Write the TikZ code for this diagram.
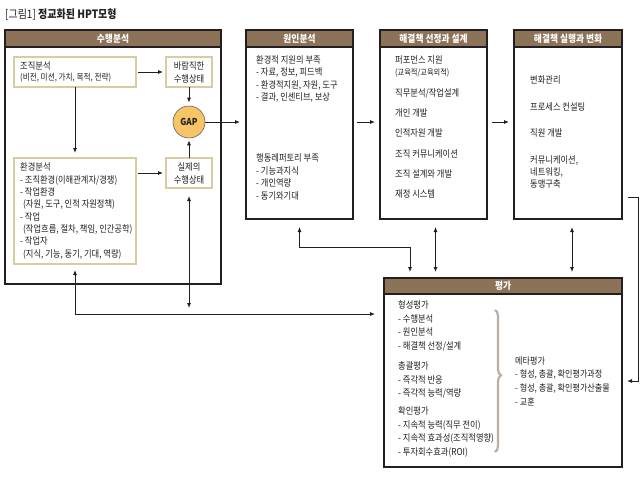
\documentclass[tikz,border=0pt]{standalone}
\usepackage{fontspec}
\setmainfont{Noto Sans CJK KR}[FakeStretch=0.87]
\usetikzlibrary{arrows.meta,decorations.pathreplacing,calc}
\definecolor{hdr}{HTML}{8C7257}
\definecolor{ink}{HTML}{231F20}
\definecolor{tanc}{HTML}{D8CDA0}
\definecolor{gapfill}{HTML}{F8C566}
\definecolor{bracec}{HTML}{B8B0A8}
\begin{document}
\begin{tikzpicture}[x=1pt,y=-1pt,
 frame/.style={draw=ink,line width=1.1pt,fill=white,anchor=north west,inner sep=0pt,outer sep=0pt},
 inbox/.style={draw=tanc,line width=1.2pt,fill=white,anchor=north west,inner sep=0pt,outer sep=0pt},
 hd/.style={draw=ink,line width=1.1pt,fill=hdr,anchor=north west,inner sep=0pt,outer sep=0pt,text=white,font=\bfseries\fontsize{10}{11}\selectfont},
 tx/.style={anchor=west,inner sep=0pt,align=left,text=ink,font=\fontsize{9.5}{12}\selectfont},
 conn/.style={draw=ink,line width=0.8pt},
 arr/.style={conn,-{Latex[length=5pt,width=4pt]}},
 darr/.style={conn,{Latex[length=5pt,width=4pt]}-{Latex[length=5pt,width=4pt]}},
]
\useasboundingbox (0,0) rectangle (640,480);
% title
\node[anchor=west,inner sep=0pt,text=ink,font=\fontsize{11.5}{13}\selectfont] (title) at (5,15) {[그림1] \textbf{정교화된 HPT모형}};
% performance analysis frame
\node[frame,minimum width=216pt,minimum height=254pt] (perf) at (5,30) {};
\node[hd,minimum width=216pt,minimum height=17pt] (perfh) at (5,30) {수행분석};
\node[inbox,minimum width=122pt,minimum height=30pt] (org) at (14,57) {};
\node[tx] (orgt) at (20,72) {조직분석\\[-1pt]{\fontsize{8.8}{12}\selectfont(비전, 미션, 가치, 목적, 전략)}};
\node[inbox,minimum width=46pt,minimum height=30pt] (des) at (166,57) {};
\node[tx,anchor=center,align=center,font=\fontsize{9.5}{13}\selectfont] (dest) at (des.center) {바람직한\\수행상태};
\node[circle,draw=ink!70,line width=0.6pt,fill=gapfill,minimum size=32pt,inner sep=0pt,font=\bfseries\fontsize{9.5}{10}\selectfont,text=ink] (gap) at (189,122) {GAP};
\node[inbox,minimum width=122pt,minimum height=106pt] (env) at (14,158) {};
\node[tx,font=\fontsize{9.5}{12.3}\selectfont] (envt) at (20,211) {환경분석\\- 조직환경(이해관계자/경쟁)\\- 작업환경\\\hspace*{3pt}(자원, 도구, 인적 자원정책)\\- 작업\\\hspace*{3pt}(작업흐름, 절차, 책임, 인간공학)\\- 작업자\\\hspace*{3pt}(지식, 기능, 동기, 기대, 역량)};
\node[inbox,minimum width=46pt,minimum height=30pt] (act) at (166,158) {};
\node[tx,anchor=center,align=center,font=\fontsize{9.5}{13}\selectfont] (actt) at (act.center) {실제의\\수행상태};
% cause analysis
\node[frame,minimum width=107pt,minimum height=189pt] (cause) at (246,30) {};
\node[hd,minimum width=107pt,minimum height=17pt] (causeh) at (246,30) {원인분석};
\node[tx,font=\fontsize{9.5}{12.5}\selectfont] (cause1) at (256,79) {환경적 지원의 부족\\- 자료, 정보, 피드백\\- 환경적지원, 자원, 도구\\- 결과, 인센티브, 보상};
\node[tx,font=\fontsize{9.5}{12.5}\selectfont] (cause2) at (256,177) {행동레퍼토리 부족\\- 기능과지식\\- 개인역량\\- 동기와기대};
% solution selection & design
\node[frame,minimum width=107pt,minimum height=189pt] (sol) at (380,30) {};
\node[hd,minimum width=107pt,minimum height=17pt] (solh) at (380,30) {해결책 선정과 설계};
\node[tx] (sol1) at (395,66) {퍼포먼스 지원\\{\fontsize{8.3}{12}\selectfont(교육적/교육외적)}};
\node[tx] (sol2) at (395,93) {직무분석/작업설계};
\node[tx] (sol3) at (395,113) {개인 개발};
\node[tx] (sol4) at (395,133) {인적자원 개발};
\node[tx] (sol5) at (395,154) {조직 커뮤니케이션};
\node[tx] (sol6) at (395,174) {조직 설계와 개발};
\node[tx] (sol7) at (395,194) {재정 시스템};
% implementation & change
\node[frame,minimum width=108pt,minimum height=189pt] (impl) at (514,30) {};
\node[hd,minimum width=108pt,minimum height=17pt] (implh) at (514,30) {해결책 실행과 변화};
\node[tx] (impl1) at (530,80) {변화관리};
\node[tx] (impl2) at (530,107) {프로세스 컨설팅};
\node[tx] (impl3) at (530,133) {직원 개발};
\node[tx] (impl4) at (530,172) {커뮤니케이션,\\네트워킹,\\동맹구축};
% evaluation
\node[frame,minimum width=238pt,minimum height=189pt] (eval) at (384,278) {};
\node[hd,minimum width=238pt,minimum height=16pt] (evalh) at (384,278) {평가};
\node[tx,font=\fontsize{9.5}{13.7}\selectfont] (ev1) at (398,326) {형성평가\\- 수행분석\\- 원인분석\\- 해결책 선정/설계};
\node[tx,font=\fontsize{9.5}{13.7}\selectfont] (ev2) at (398,380) {총괄평가\\- 즉각적 반응\\- 즉각적 능력/역량};
\node[tx,font=\fontsize{9.5}{13.5}\selectfont] (ev3) at (398,432) {확인평가\\- 지속적 능력(직무 전이)\\- 지속적 효과성(조직적영향)\\- 투자회수효과(ROI)};
\node[tx,font=\fontsize{9.3}{13.7}\selectfont] (meta) at (515,381) {메타평가\\- 형성, 총괄, 확인평가과정\\- 형성, 총괄, 확인평가산출물\\- 교훈};
\draw[decorate,decoration={brace,amplitude=6pt,aspect=0.46},draw=bracec,line width=2.2pt] (495,310) -- (495,452);
% connectors
\draw[arr,shorten <=2pt,shorten >=3pt] (org.east) -- (des.west);
\draw[arr,shorten >=3pt] (des.south) -- (gap.north);
\draw[arr,shorten >=2pt] (act.north) -- (gap.south);
\draw[arr,shorten >=6pt] (gap.east) -- (gap.east -| cause.west);
\draw[arr,shorten <=4pt,shorten >=5pt] (cause.east |- gap.east) -- (gap.east -| sol.west);
\draw[arr,shorten <=5pt,shorten >=5pt] (sol.east |- gap.east) -- (gap.east -| impl.west);
\draw[arr,shorten >=5pt] (org.south) -- (org.south |- env.north);
\draw[arr,shorten <=2pt,shorten >=3pt] (act.west -| env.east) -- (act.west);
\coordinate (evl) at (384,314);
\draw[darr,shorten <=6pt,shorten >=9pt] (env.south) |- (evl);
\coordinate (afree) at (189,308);
\draw[darr,shorten <=8pt] (act.south) -- (afree);
\coordinate (ce) at (410,247);
\draw[darr,shorten <=8pt,shorten >=6pt] (cause.south) |- (ce) -- (ce |- eval.north);
\draw[darr,shorten <=8pt,shorten >=6pt] ([xshift=2pt]sol.south) -- ([xshift=2pt]sol.south |- eval.north);
\draw[darr,shorten <=8pt,shorten >=6pt] ([xshift=4pt]impl.south) -- ([xshift=4pt]impl.south |- eval.north);
\coordinate (ia) at (628,197);
\coordinate (ib) at (638,381);
\draw[arr,shorten >=5pt] (ia) -| (ib) -- (ib -| eval.east);
\end{tikzpicture}
\end{document}
